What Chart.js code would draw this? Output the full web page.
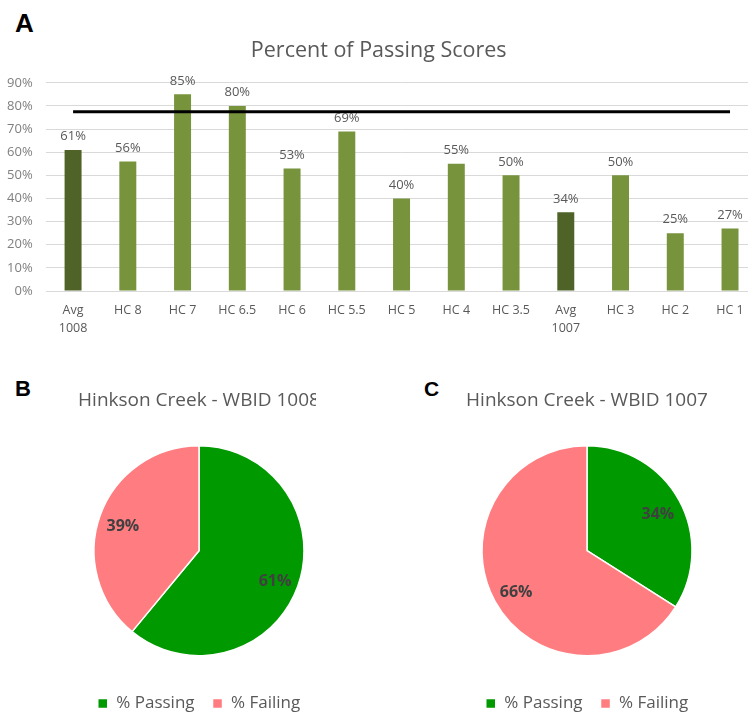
<!DOCTYPE html>
<html>
<head>
<meta charset="utf-8">
<script src="https://cdn.jsdelivr.net/npm/chart.js@4/dist/chart.umd.min.js"></script>
<style>
  html, body { margin: 0; padding: 0; background: #fff; width: 748px; height: 714px; overflow: hidden; position: relative; }
  .panel { position: absolute; font-family: "Liberation Sans", Arial, sans-serif; font-weight: bold; color: #000; line-height: 1; }
  .box { position: absolute; }
  .clip { position: absolute; overflow: hidden; }
</style>
</head>
<body>
<div class="panel" style="left:15px; top:10px; font-size:26px; line-height:26px;">A</div>
<div class="panel" style="left:15px; top:378px; font-size:22px; line-height:22px;">B</div>
<div class="panel" style="left:424px; top:378px; font-size:21px; line-height:21px;">C</div>

<div class="box" style="left:0; top:0; width:770px; height:346px;"><canvas id="bar"></canvas></div>
<div class="clip" style="left:0; top:380px; width:316px; height:342px;">
  <div class="box" style="left:49px; top:0; width:300px; height:342px;"><canvas id="pieB"></canvas></div>
</div>
<div class="box" style="left:437px; top:380px; width:300px; height:342px;"><canvas id="pieC"></canvas></div>

<script>
// ---------- data ----------
const CATEGORIES = [['Avg', '1008'], 'HC 8', 'HC 7', 'HC 6.5', 'HC 6', 'HC 5.5', 'HC 5', 'HC 4', 'HC 3.5', ['Avg', '1007'], 'HC 3', 'HC 2', 'HC 1'];
const PASSING_PCT = [61, 56, 85, 80, 53, 69, 40, 55, 50, 34, 50, 25, 27];
const TARGET_LINE = [77.5, 77.5, 77.5, 77.5, 77.5, 77.5, 77.5, 77.5, 77.5, 77.5, 77.5, 77.5, 77.5];
const Y_TICKS = [0, 10, 20, 30, 40, 50, 60, 70, 80, 90];

const PIE_LABELS = ['% Passing', '% Failing'];
const WBID_1008 = [61, 39];
const WBID_1007 = [34, 66];

const BAR_TITLE = 'Percent of Passing Scores';
const PIE_B_TITLE = 'Hinkson Creek - WBID 1008';
const PIE_C_TITLE = 'Hinkson Creek - WBID 1007';

// ---------- styles ----------
const FONT = '"Open Sans", Lato, sans-serif';
const LIGHT_GREEN = '#77933C';
const DARK_GREEN = '#4F6228';
const PASS_GREEN = '#009900';
const FAIL_PINK = '#FF7C80';

const barColors = CATEGORIES.map(c => Array.isArray(c) && c[0] === 'Avg' ? DARK_GREEN : LIGHT_GREEN);

const valueLabels = {
  id: 'valueLabels',
  afterDatasetsDraw(chart) {
    const ctx = chart.ctx;
    chart.data.datasets.forEach((ds, di) => {
      if (!ds.valueLabels) return;
      const meta = chart.getDatasetMeta(di);
      const o = ds.valueLabels;
      ctx.save();
      ctx.font = o.font;
      ctx.fillStyle = o.color;
      ctx.textAlign = 'center';
      ctx.textBaseline = 'middle';
      meta.data.forEach((el, i) => {
        const txt = ds.data[i] + '%';
        if (o.kind === 'bar') {
          ctx.fillText(txt, el.x, el.y - o.offset);
        } else {
          const mid = (el.startAngle + el.endAngle) / 2;
          const r = el.outerRadius * o.frac;
          ctx.fillText(txt, el.x + Math.cos(mid) * r, el.y + Math.sin(mid) * r + o.dy);
        }
      });
      ctx.restore();
    });
  }
};

new Chart(document.getElementById('bar'), {
  data: {
    labels: CATEGORIES,
    datasets: [
      {
        type: 'line',
        data: TARGET_LINE,
        borderColor: '#000000',
        borderWidth: 3,
        pointRadius: 0,
        fill: false,
        order: 0
      },
      {
        type: 'bar',
        data: PASSING_PCT,
        backgroundColor: barColors,
        barPercentage: 0.31,
        categoryPercentage: 1,
        order: 1,
        valueLabels: { kind: 'bar', font: '13px ' + FONT, color: '#595959', offset: 13.5 }
      }
    ]
  },
  options: {
    responsive: true,
    maintainAspectRatio: false,
    animation: false,
    layout: { padding: { left: 0, right: 12.6, top: 0, bottom: 0 } },
    plugins: {
      legend: { display: false },
      tooltip: { enabled: false },
      title: {
        display: true,
        text: BAR_TITLE,
        color: '#595959',
        font: { family: FONT, size: 21.5, weight: 'normal', lineHeight: 1.2 },
        padding: { top: 38, bottom: 19 }
      }
    },
    scales: {
      x: {
        grid: { display: false, drawTicks: false },
        border: { display: false },
        ticks: {
          color: '#595959',
          font: { family: FONT, size: 12.5, lineHeight: 1.45 },
          padding: 10,
          maxRotation: 0,
          autoSkip: false
        },
        afterFit: s => { s.height = 55; }
      },
      y: {
        min: 0,
        max: 90,
        afterBuildTicks: s => { s.ticks = Y_TICKS.map(v => ({ value: v })); },
        grid: { color: '#d9d9d9', lineWidth: 1, drawTicks: false },
        border: { display: false },
        ticks: {
          color: '#7f7f7f',
          font: { family: FONT, size: 13 },
          padding: 13,
          callback: v => v + '%'
        },
        afterFit: s => { s.width = 45.7; }
      }
    }
  },
  plugins: [valueLabels]
});

function pieConfig(values, title) {
  return {
    type: 'pie',
    data: {
      labels: PIE_LABELS,
      datasets: [{
        data: values,
        backgroundColor: [PASS_GREEN, FAIL_PINK],
        borderColor: '#ffffff',
        borderWidth: 1.5,
        radius: 105,
        valueLabels: { kind: 'pie', font: 'bold 16px ' + FONT, color: '#404040', frac: 0.77, dy: 3 }
      }]
    },
    options: {
      responsive: true,
      maintainAspectRatio: false,
      animation: false,
      layout: { padding: 0 },
      plugins: {
        tooltip: { enabled: false },
        title: {
          display: true,
          text: title,
          color: '#595959',
          font: { family: FONT, size: 19, weight: 'normal', lineHeight: 1.2 },
          padding: { top: 9.6, bottom: 12.0 }
        },
        legend: {
          display: true,
          position: 'bottom',
          labels: {
            color: '#595959',
            font: { family: FONT, size: 17 },
            boxWidth: 10,
            boxHeight: 10,
            padding: 18
          }
        }
      }
    },
    plugins: [valueLabels]
  };
}

new Chart(document.getElementById('pieB'), pieConfig(WBID_1008, PIE_B_TITLE));
new Chart(document.getElementById('pieC'), pieConfig(WBID_1007, PIE_C_TITLE));
</script>
</body>
</html>
